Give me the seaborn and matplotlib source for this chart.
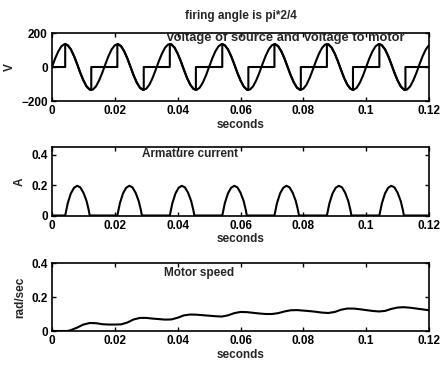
import numpy as np
import pandas as pd
import matplotlib
matplotlib.use("Agg")
import matplotlib.pyplot as plt
import seaborn as sns

# ---------------- data (time in ms) ----------------
src_chunk = [0, 50, 92, 122, 135, 128, 104, 65, 17, -34,
             -79, -114, -133, -133, -114, -79, -34, 17, 65, 104,
             128, 135, 122, 92, 50, 0, -50, -92, -122, -135,
             -128, -104, -65, -17, 34, 79, 114, 133, 133, 114,
             79, 34, -17, -65, -104, -128, -135, -122, -92, -50]
source_v = src_chunk + src_chunk + src_chunk[:21]          # samples at 0..120 ms
source_t = list(range(0, 121))

motor_t = [0, 4.2, 4.2, 5, 6, 7, 8, 9, 10, 11, 12, 12.5, 12.5,
           20.8, 20.8, 21, 22, 23, 24, 25, 26, 27, 28, 29, 29.2, 29.2,
           37.5, 37.5, 38, 39, 40, 41, 42, 43, 44, 45, 45.8, 45.8,
           54.2, 54.2, 55, 56, 57, 58, 59, 60, 61, 62, 62.5, 62.5,
           70.8, 70.8, 71, 72, 73, 74, 75, 76, 77, 78, 79, 79.2, 79.2,
           87.5, 87.5, 88, 89, 90, 91, 92, 93, 94, 95, 95.8, 95.8,
           104.2, 104.2, 105, 106, 107, 108, 109, 110, 111, 112, 112.5, 112.5,
           120]
motor_v = [0, 0, 135, 128, 104, 65, 17, -34, -79, -114, -133, -135, 0,
           0, 135, 135, 122, 92, 50, 0, -50, -92, -122, -135, -135, 0,
           0, 135, 133, 114, 79, 34, -17, -65, -104, -128, -135, 0,
           0, 135, 128, 104, 65, 17, -34, -79, -114, -133, -135, 0,
           0, 135, 135, 122, 92, 50, 0, -50, -92, -122, -135, -135, 0,
           0, 135, 133, 114, 79, 34, -17, -65, -104, -128, -135, 0,
           0, 135, 128, 104, 65, 17, -34, -79, -114, -133, -135, 0,
           0]

pulse_starts = [4.2, 20.8, 37.5, 54.2, 70.8, 87.5, 104.2]
pulse_offsets = [0, 0.8, 1.8, 2.8, 3.8, 4.8, 5.8, 6.8, 7.5, 7.8]
pulse_values = [0, 0.08, 0.145, 0.182, 0.195, 0.185, 0.15, 0.095, 0.035, 0]

speed_t = [0, 5, 6, 8, 10, 12, 14, 16, 18, 20, 22, 24, 26, 28, 30, 32, 34, 36, 38,
           40, 42, 44, 46, 48, 50, 52, 54, 56, 58, 60, 62, 64, 66, 68, 70, 72, 74,
           76, 78, 80, 82, 84, 86, 88, 90, 92, 94, 96, 98, 100, 102, 104, 106, 108,
           110, 112, 114, 116, 118, 120]
speed_v = [0, 0, 0.005, 0.02, 0.038, 0.047, 0.046, 0.04, 0.038, 0.038, 0.039, 0.05,
           0.068, 0.077, 0.077, 0.073, 0.07, 0.067, 0.068, 0.078, 0.092, 0.097, 0.096,
           0.093, 0.09, 0.087, 0.085, 0.092, 0.105, 0.112, 0.111, 0.107, 0.103, 0.1,
           0.1, 0.105, 0.115, 0.122, 0.123, 0.12, 0.117, 0.113, 0.108, 0.106, 0.112,
           0.125, 0.132, 0.132, 0.128, 0.123, 0.118, 0.115, 0.118, 0.13, 0.138, 0.14,
           0.137, 0.132, 0.127, 0.122]

x_ticks = [0, 0.02, 0.04, 0.06, 0.08, 0.1, 0.12]
x_ticklabels = ["0", "0.02", "0.04", "0.06", "0.08", "0.1", "0.12"]

# ---------------- tables ----------------
df_src = pd.DataFrame({"t": np.array(source_t) / 1000, "v": source_v})
df_mot = pd.DataFrame({"t": np.array(motor_t) / 1000, "v": motor_v})
cur_t, cur_v = [0.0], [0.0]
for s in pulse_starts:
    for o, v in zip(pulse_offsets, pulse_values):
        cur_t.append(s + o)
        cur_v.append(v)
cur_t.append(120.0)
cur_v.append(0.0)
df_cur = pd.DataFrame({"t": np.array(cur_t) / 1000, "i": cur_v})
df_spd = pd.DataFrame({"t": np.array(speed_t) / 1000, "w": speed_v})

# ---------------- style ----------------
sns.set_style("ticks")
plt.rcParams["font.family"] = ["Liberation Sans", "DejaVu Sans"]
plt.rcParams["font.weight"] = "bold"
FS = 8.5

fig = plt.figure(figsize=(4.43, 3.68), dpi=100)
W, H = 443, 368
def add_ax(left, top, right, bottom):
    return fig.add_axes([left / W, 1 - bottom / H, (right - left) / W, (bottom - top) / H])

ax1 = add_ax(52, 33, 429, 101)
ax2 = add_ax(52, 147, 429, 215.5)
ax3 = add_ax(52, 263, 429, 331)

lw = 1.5
sns.lineplot(data=df_src, x="t", y="v", ax=ax1, color="black", lw=lw, estimator=None, sort=False)
sns.lineplot(data=df_mot, x="t", y="v", ax=ax1, color="black", lw=lw, estimator=None, sort=False)
sns.lineplot(data=df_cur, x="t", y="i", ax=ax2, color="black", lw=lw, estimator=None, sort=False)
sns.lineplot(data=df_spd, x="t", y="w", ax=ax3, color="black", lw=lw, estimator=None, sort=False)

ax1.set_ylim(-200, 200)
ax1.set_yticks([-200, 0, 200])
ax2.set_ylim(0, 0.45)
ax2.set_yticks([0, 0.2, 0.4])
ax2.set_yticklabels(["0", "0.2", "0.4"])
ax3.set_ylim(0, 0.4)
ax3.set_yticks([0, 0.2, 0.4])
ax3.set_yticklabels(["0", "0.2", "0.4"])

for ax, yl in zip([ax1, ax2, ax3], ["V", "A", "rad/sec"]):
    ax.set_xlim(0, 0.12)
    ax.set_xticks(x_ticks)
    ax.set_xticklabels(x_ticklabels)
    ax.tick_params(direction="in", top=True, right=True, length=3, width=1,
                   labelsize=FS, pad=3, colors="black")
    for sp in ax.spines.values():
        sp.set_linewidth(1.2)
        sp.set_color("black")
    ax.set_xlabel("seconds", fontsize=FS, fontweight="bold", labelpad=1)
    ax.set_ylabel(yl, fontsize=FS, fontweight="bold", labelpad=4)
    for lab in ax.get_xticklabels() + ax.get_yticklabels():
        lab.set_fontweight("bold")

ax1.set_title("firing angle is pi*2/4", fontsize=FS, fontweight="bold", pad=10)
ax1.text(0.62, 0.93, "Voltage of source and Voltage to motor", transform=ax1.transAxes,
         ha="center", va="center", fontsize=9.3, fontweight="bold")
ax2.text(0.366, 0.9, "Armature current", transform=ax2.transAxes,
         ha="center", va="center", fontsize=FS, fontweight="bold")
ax3.text(0.389, 0.86, "Motor speed", transform=ax3.transAxes,
         ha="center", va="center", fontsize=FS, fontweight="bold")

fig.savefig("out.png", dpi=100)
